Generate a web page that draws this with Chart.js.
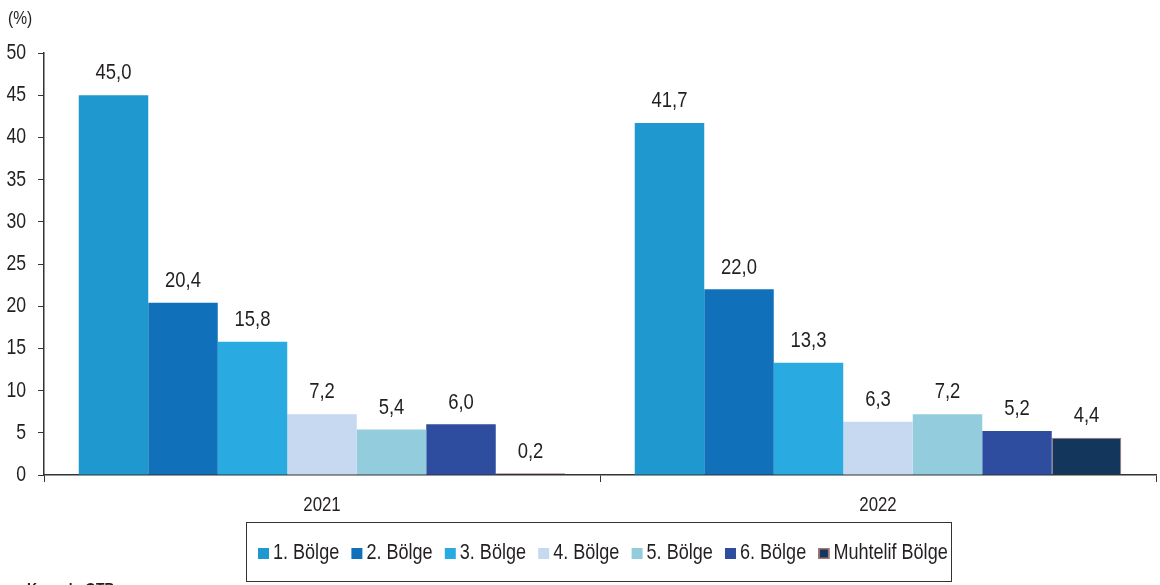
<!DOCTYPE html>
<html>
<head>
<meta charset="utf-8">
<script src="https://cdn.jsdelivr.net/npm/chart.js@4.4.0/dist/chart.umd.min.js"></script>
<style>
html,body{margin:0;padding:0;background:#fff;}
#wrap{position:relative;width:1160px;height:585px;}
</style>
</head>
<body>
<div id="wrap"><canvas id="c" width="1160" height="585"></canvas></div>
<script>
const categories = ['2021', '2022'];
const seriesNames = ['1. Bölge', '2. Bölge', '3. Bölge', '4. Bölge', '5. Bölge', '6. Bölge', 'Muhtelif Bölge'];
const bolge1 = [45.0, 41.7];
const bolge2 = [20.4, 22.0];
const bolge3 = [15.8, 13.3];
const bolge4 = [7.2, 6.3];
const bolge5 = [5.4, 7.2];
const bolge6 = [6.0, 5.2];
const muhtelif = [0.2, 4.4];
const yTicks = [0, 5, 10, 15, 20, 25, 30, 35, 40, 45, 50];
const unitLabel = '(%)';
const sourceNote = 'Kaynak: GTB';

const seriesValues = [bolge1, bolge2, bolge3, bolge4, bolge5, bolge6, muhtelif];
const colors = ['#1f98cf', '#1170ba', '#29abe2', '#c6d9f0', '#93cddd', '#2e4d9f', '#12365c'];
const borders = ['#1f98cf', '#1170ba', '#29abe2', '#c6d9f0', '#93cddd', '#2e4d9f', '#a87474'];
const FONT = '"Liberation Sans", Arial, sans-serif';
const SX = 0.82; // horizontal condensing, like a narrow face

function cText(ctx, text, x, y, size, align, weight) {
  ctx.save();
  ctx.font = (weight || '') + ' ' + size + 'px ' + FONT;
  ctx.textAlign = align;
  ctx.translate(x, y);
  ctx.scale(SX, 1);
  ctx.fillText(text, 0, 0);
  const w = ctx.measureText(text).width * SX;
  ctx.restore();
  return w;
}

const labelsPlugin = {
  id: 'extras',
  afterDatasetsDraw(chart) {
    const ctx = chart.ctx;
    ctx.save();
    ctx.fillStyle = '#231f20';
    ctx.textBaseline = 'middle';
    // data labels
    chart.data.datasets.forEach((ds, i) => {
      const meta = chart.getDatasetMeta(i);
      meta.data.forEach((bar, j) => {
        const v = ds.data[j];
        cText(ctx, v.toFixed(1).replace('.', ','), bar.x, bar.y - 22, 22.5, 'center');
      });
    });
    // y tick labels
    const ys = chart.scales.y;
    ys.ticks.forEach(t => {
      cText(ctx, String(t.value), 26, ys.getPixelForValue(t.value), 21.5, 'right');
    });
    // x tick labels
    const xs = chart.scales.x;
    chart.data.labels.forEach((lab, i) => {
      cText(ctx, lab, xs.getPixelForTick(i), 505, 20.5, 'center');
    });
    // unit label
    cText(ctx, unitLabel, 8, 19, 19, 'left');
    // legend
    ctx.strokeStyle = '#333';
    ctx.lineWidth = 1;
    ctx.strokeRect(246.5, 522.5, 705, 59);
    let x = 258;
    const cy = 553;
    chart.data.datasets.forEach((ds) => {
      ctx.fillStyle = ds.backgroundColor;
      ctx.fillRect(x, cy - 5, 11, 11);
      if (ds.borderColor !== ds.backgroundColor) {
        ctx.strokeStyle = ds.borderColor;
        ctx.lineWidth = 1.5;
        ctx.strokeRect(x + 0.75, cy - 4.25, 9.5, 9.5);
      }
      ctx.fillStyle = '#231f20';
      const w = cText(ctx, ds.label, x + 15, cy, 22, 'left');
      x += 15 + w + 12.2;
    });
    // source note (cut at bottom)
    ctx.textBaseline = 'top';
    cText(ctx, sourceNote, 27, 582, 17, 'left', 'bold');
    ctx.restore();
  }
};

new Chart(document.getElementById('c'), {
  type: 'bar',
  data: {
    labels: categories,
    datasets: seriesNames.map((name, i) => ({
      label: name,
      data: seriesValues[i],
      backgroundColor: colors[i],
      borderColor: borders[i],
      borderWidth: i === 6 ? 1 : 0,
      categoryPercentage: 0.875,
      barPercentage: 1.0
    }))
  },
  options: {
    responsive: false,
    animation: false,
    devicePixelRatio: 1,
    layout: { padding: { top: 53, right: 4, left: 0, bottom: 0 } },
    plugins: { legend: { display: false }, tooltip: { enabled: false } },
    scales: {
      y: {
        min: 0, max: 50,
        afterBuildTicks(s) { s.ticks = yTicks.map(v => ({ value: v })); },
        afterFit(s) { s.width = 44; },
        grid: { drawOnChartArea: false, tickLength: 6, color: '#333', tickColor: '#333' },
        border: { color: '#333', width: 1.5 },
        ticks: { display: false }
      },
      x: {
        offset: true,
        afterFit(s) { s.height = 110; },
        grid: { offset: true, drawOnChartArea: false, tickLength: 7, color: '#333', tickColor: '#333' },
        border: { color: '#333', width: 1.5 },
        ticks: { display: false }
      }
    }
  },
  plugins: [labelsPlugin]
});
</script>
</body>
</html>
